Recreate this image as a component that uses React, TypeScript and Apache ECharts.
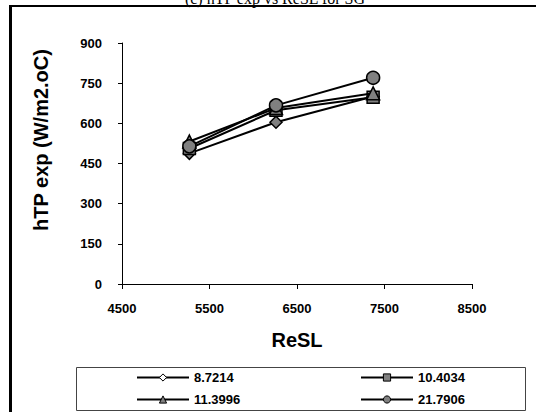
import React, { useEffect, useRef } from "react";
import * as echarts from "echarts";

const seriesNames = ["8.7214", "10.4034", "11.3996", "21.7906"];
const xValues = [5270, 6260, 7370];
const diamondValues = [488, 604, 700];
const squareValues = [506, 649, 697];
const triangleValues = [532, 657, 712];
const circleValues = [514, 667, 770];
const xTicks = { min: 4500, max: 8500, interval: 1000 };
const yTicks = { min: 0, max: 900, interval: 150 };

const FONT = "'Liberation Sans', Arial, sans-serif";

export default function App() {
  const ref = useRef<HTMLDivElement>(null);
  useEffect(() => {
    if (!ref.current) return;
    const chart = echarts.init(ref.current, undefined, { renderer: "svg" });
    const symbols = ["diamond", "rect", "triangle", "circle"];
    const sizes = [12, 12, 13, 13];
    const valueSets = [diamondValues, squareValues, triangleValues, circleValues];
    const series = seriesNames.map((name, i) => ({
      name,
      type: "line",
      data: xValues.map((x, j) => [x, valueSets[i][j]]),
      symbol: symbols[i],
      symbolSize: sizes[i],
      showAllSymbol: true,
      lineStyle: { color: "#000", width: 2 },
      itemStyle: { color: "#808080", borderColor: "#000", borderWidth: 1.5 },
      z: 2 + i,
    }));
    const legendFill = ["#fff", "#808080", "#808080", "#808080"];
    const legendItem = (i: number) => ({
      name: seriesNames[i],
      itemStyle: { color: legendFill[i], borderColor: "#000", borderWidth: 1 },
    });
    const legendCommon = {
      orient: "vertical",
      top: 371,
      height: 60,
      padding: 0,
      itemWidth: 52,
      itemHeight: 9,
      itemGap: 9,
      textStyle: { fontFamily: FONT, fontWeight: "bold", fontSize: 13, color: "#000" },
      selectedMode: false,
    };
    const plain = (v: number) => String(v);
    chart.setOption({
      animation: false,
      backgroundColor: "#fff",
      grid: { left: 122, right: 64, top: 43, bottom: 128, containLabel: false },
      xAxis: {
        type: "value",
        min: xTicks.min,
        max: xTicks.max,
        interval: xTicks.interval,
        name: "ReSL",
        nameLocation: "middle",
        nameGap: 46,
        nameTextStyle: { fontFamily: FONT, fontWeight: "bold", fontSize: 20, color: "#000" },
        axisLine: { show: true, lineStyle: { color: "#000", width: 1 } },
        axisTick: { show: true, length: 5, lineStyle: { color: "#000" } },
        axisLabel: { fontFamily: FONT, fontWeight: "bold", fontSize: 13, color: "#000", margin: 18, formatter: plain },
        splitLine: { show: false },
      },
      yAxis: {
        type: "value",
        min: yTicks.min,
        max: yTicks.max,
        interval: yTicks.interval,
        axisLine: { show: true, lineStyle: { color: "#000", width: 1 } },
        axisTick: { show: true, length: 4, lineStyle: { color: "#000" } },
        axisLabel: { fontFamily: FONT, fontWeight: "bold", fontSize: 13, color: "#000", margin: 20, formatter: plain },
        splitLine: { show: false },
      },
      legend: [
        { ...legendCommon, left: 136, data: [legendItem(0), legendItem(2)] },
        { ...legendCommon, left: 360, data: [legendItem(1), legendItem(3)] },
      ],
      graphic: [
        {
          type: "text",
          x: 275,
          y: 6,
          style: {
            text: "(c) hTP exp vs ReSL for SG",
            fontFamily: "'Liberation Serif', 'Times New Roman', serif",
            fontSize: 16,
            fill: "#000",
            align: "center",
            verticalAlign: "bottom",
          },
        },
        {
          type: "line",
          shape: { x1: 10.5, y1: 5, x2: 10.5, y2: 412 },
          style: { stroke: "#000", lineWidth: 3 },
        },
        {
          type: "line",
          shape: { x1: 9, y1: 6, x2: 536, y2: 6 },
          style: { stroke: "#000", lineWidth: 2 },
        },
        {
          type: "rect",
          shape: { x: 76.5, y: 367.5, width: 449, height: 43 },
          style: { fill: "none", stroke: "#444", lineWidth: 1 },
        },
        {
          type: "text",
          x: 41,
          y: 140,
          rotation: Math.PI / 2,
          style: {
            text: "hTP exp (W/m2.oC)",
            fontFamily: FONT,
            fontWeight: "bold",
            fontSize: 20,
            fill: "#000",
            align: "center",
            verticalAlign: "middle",
          },
        },
      ],
      series,
    });
    return () => chart.dispose();
  }, []);
  return <div ref={ref} style={{ width: 536, height: 412, position: "absolute", left: 0, top: 0 }} />;
}
